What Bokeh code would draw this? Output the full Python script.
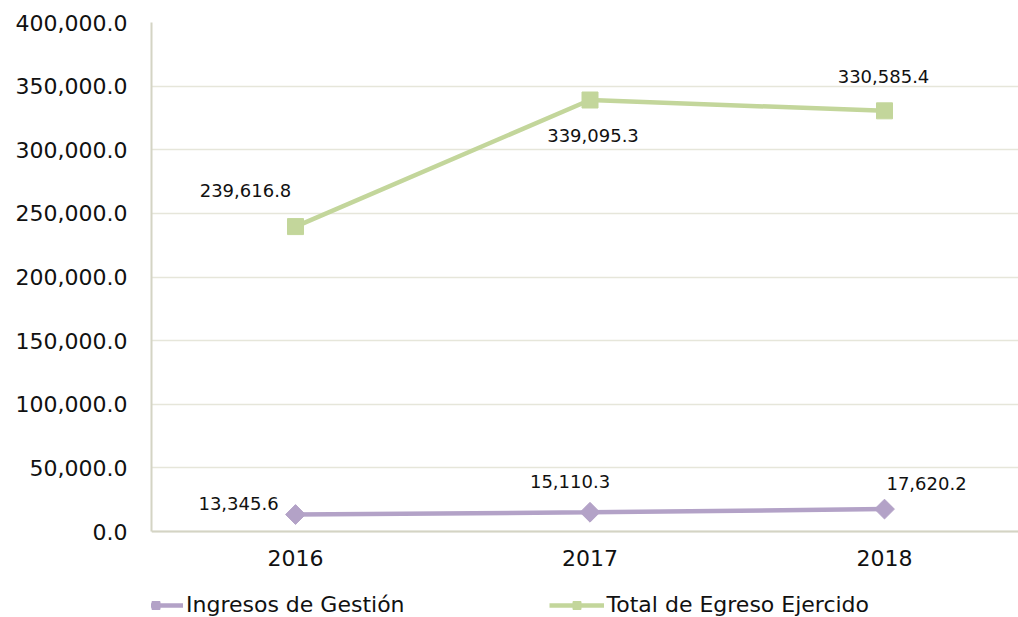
from bokeh.plotting import figure
from bokeh.models import (ColumnDataSource, FixedTicker, NumeralTickFormatter,
                          Range1d, Legend, LegendItem)
from bokeh.core.properties import value
from bokeh.embed import file_html
from bokeh.resources import INLINE
import math

years = ["2016", "2017", "2018"]
ingresos = [13345.6, 15110.3, 17620.2]
egreso = [239616.8, 339095.3, 330585.4]
series_names = ["Ingresos de Gestión", "Total de Egreso Ejercido"]
y_max = 400000
y_step = 50000

# label offsets (style only)
ing_dx = [-57, -20, 42]
ing_dy = [-11, -31, -26]
egr_dx = [-50, 3, -1]
egr_dy = [-36, 35, -34]

FONT = "DejaVu Sans"
PURPLE = "#B3A2C7"
GREEN = "#C3D69B"

# layout in pixels
W, H = 1018, 617
TOP, LEFT = 22, 151
ZERO_PX = 531  # pixel row of y=0
plot_h = ZERO_PX - TOP
y_start = -(H - ZERO_PX) / plot_h * y_max

xs = list(range(len(years)))
src_i = ColumnDataSource(dict(x=xs, y=ingresos, lbl=[f"{v:,.1f}" for v in ingresos],
                              dx=ing_dx, dy=ing_dy))
src_e = ColumnDataSource(dict(x=xs, y=egreso, lbl=[f"{v:,.1f}" for v in egreso],
                              dx=egr_dx, dy=egr_dy))

p = figure(width=W, height=H, output_backend="svg", toolbar_location=None,
           x_range=Range1d(-0.489, 2.455), y_range=Range1d(y_start, y_max),
           min_border_left=LEFT, min_border_right=0, min_border_top=TOP, min_border_bottom=0)
p.outline_line_color = None
p.background_fill_color = "white"
p.border_fill_color = "white"

p.xgrid.visible = False
p.ygrid.grid_line_color = "#E6E6DA"
p.ygrid.grid_line_width = 1.5

p.yaxis.ticker = FixedTicker(ticks=list(range(0, y_max + 1, y_step)))
p.yaxis.formatter = NumeralTickFormatter(format="0,0.0")
p.yaxis.bounds = (0, y_max)
p.xaxis.ticker = FixedTicker(ticks=xs)
p.xaxis.major_label_overrides = {i: y for i, y in enumerate(years)}
p.xaxis.fixed_location = 0
for ax in (p.xaxis, p.yaxis):
    ax.axis_line_color = "#D4D4C4"
    ax.axis_line_width = 2
    ax.major_tick_line_color = None
    ax.minor_tick_line_color = None
    ax.major_label_text_font = FONT
    ax.major_label_text_font_size = "22px"
    ax.major_label_text_color = "#111111"
p.yaxis.major_label_standoff = 18
p.xaxis.major_label_standoff = 12

l1 = p.line("x", "y", source=src_i, line_color=PURPLE, line_width=4.5)
m1 = p.scatter("x", "y", source=src_i, marker="square", size=14, angle=math.pi / 4,
               fill_color=PURPLE, line_color=PURPLE)
l2 = p.line("x", "y", source=src_e, line_color=GREEN, line_width=4.5)
m2 = p.scatter("x", "y", source=src_e, marker="square", size=16,
               fill_color=GREEN, line_color=GREEN)

for src in (src_i, src_e):
    p.text("x", "y", text="lbl", source=src, x_offset="dx", y_offset="dy",
           text_align="center", text_baseline="middle",
           text_font=value(FONT), text_font_size="18px", text_color="#111111")

legend = Legend(items=[LegendItem(label=series_names[0], renderers=[l1, m1]),
                       LegendItem(label=series_names[1], renderers=[l2, m2])],
                orientation="horizontal", location=(-23, 0),
                glyph_width=55, glyph_height=20, label_height=20, label_standoff=3,
                spacing=144, padding=0, margin=0,
                label_text_font=FONT, label_text_font_size="22px",
                label_text_color="#111111",
                border_line_color=None, background_fill_alpha=0)
p.add_layout(legend, "center")

open("out.html", "w").write(file_html(p, INLINE))
